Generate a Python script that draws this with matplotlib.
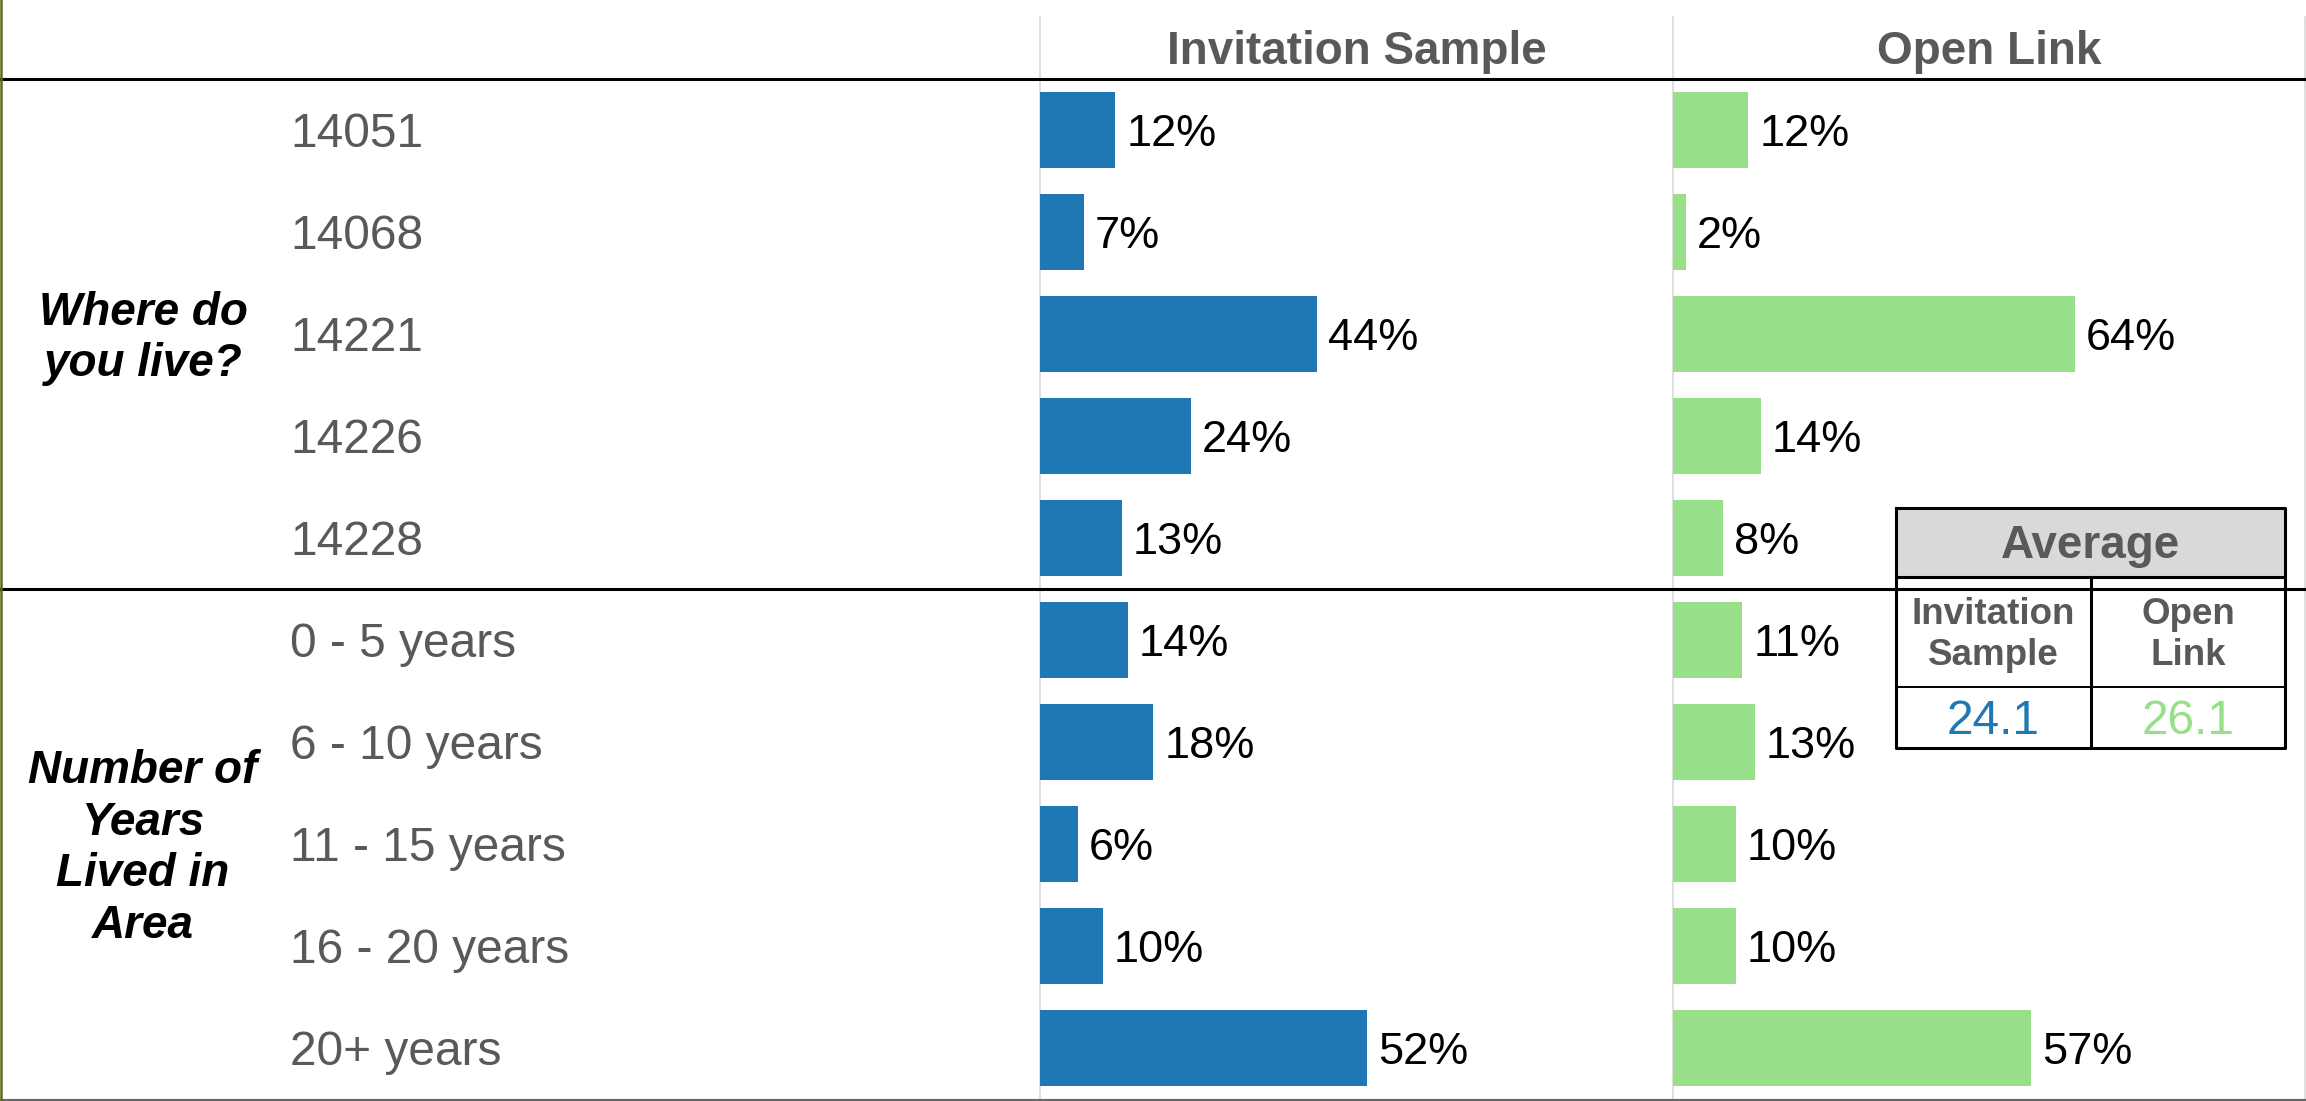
import numpy as np
import matplotlib
matplotlib.use("Agg")
import matplotlib.pyplot as plt
from matplotlib.lines import Line2D
from matplotlib.patches import Rectangle
import matplotlib.transforms as mtransforms

plt.rcParams['font.family'] = ['Liberation Sans', 'DejaVu Sans']

# data
where_labels = ['14051', '14068', '14221', '14226', '14228']
years_labels = ['0 - 5 years', '6 - 10 years', '11 - 15 years', '16 - 20 years', '20+ years']
row_labels = where_labels + years_labels
group_titles = ['Where do\nyou live?', 'Number of\nYears\nLived in\nArea']
invitation = [12, 7, 44, 24, 13, 14, 18, 6, 10, 52]
open_link = [12, 2, 64, 14, 8, 11, 13, 10, 10, 57]
column_titles = ['Invitation Sample', 'Open Link']
avg_values = [24.1, 26.1]
avg_labels = ['Invitation\nSample', 'Open\nLink']

blue = '#1f77b4'
green = '#98df8a'
gray_txt = '#595959'

W, H = 2306, 1101
fig = plt.figure(figsize=(W / 100, H / 100), dpi=100)


def fx(px):
    return px / W


def fy(py):
    return 1 - py / H


top, bottom = 79, 1099
col_x = [1040, 1673, 2305]
axes = []
for i, (vals, color) in enumerate([(invitation, blue), (open_link, green)]):
    ax = fig.add_axes([fx(col_x[i]), fy(bottom), fx(col_x[i + 1] - col_x[i]), (bottom - top) / H])
    y = np.arange(len(vals))
    ax.barh(y, vals, height=0.75, color=color)
    for yi, v in zip(y, vals):
        ax.annotate(f'{v}%', (v, yi), xytext=(8, -3.2), textcoords='offset points',
                    va='center', ha='left', fontsize=32.5, color='black')
    ax.set_xlim(0, 100.7)
    ax.set_ylim(len(vals) - 0.5, -0.5)
    ax.axis('off')
    ax.patch.set_alpha(0)
    fig.text(fx((col_x[i] + col_x[i + 1]) / 2), fy(52), column_titles[i],
             ha='center', va='center', fontsize=33, fontweight='bold', color=gray_txt)
    axes.append(ax)

# row labels and group titles
tr = mtransforms.blended_transform_factory(fig.transFigure, axes[0].transData)
tr_lab = mtransforms.offset_copy(tr, fig=fig, y=-3.2, units='points')
for i, lab in enumerate(row_labels):
    axes[0].text(fx(290), i, lab, transform=tr_lab, ha='left', va='center',
                 fontsize=34.5, color=gray_txt)
axes[0].text(fx(143), 2, group_titles[0], transform=tr_lab, ha='center', va='center',
             fontsize=33, fontweight='bold', fontstyle='italic', linespacing=1.2)
axes[0].text(fx(143), 7, group_titles[1], transform=tr_lab, ha='center', va='center',
             fontsize=33, fontweight='bold', fontstyle='italic', linespacing=1.22)

# grid lines and separators
for x in col_x:
    fig.add_artist(Line2D([fx(x), fx(x)], [fy(17), fy(H)], color='#d9d9d9', lw=1.2,
                          transform=fig.transFigure, zorder=0))
fig.add_artist(Line2D([0, 1], [fy(79), fy(79)], color='black', lw=2.2, transform=fig.transFigure))
fig.add_artist(Line2D([0, 1], [fy(589), fy(589)], color='black', lw=2.2, transform=fig.transFigure))
fig.add_artist(Line2D([0, 1], [fy(1099.5), fy(1099.5)], color='#666666', lw=1.5, transform=fig.transFigure))
fig.add_artist(Line2D([fx(1), fx(1)], [0, 1], color='#5c6b1a', lw=1.8, transform=fig.transFigure))

# average table
tx0, ty0, tw, th = 1896, 508, 389, 240
tab = fig.add_axes([fx(tx0), fy(ty0 + th), tw / W, th / H])
tab.set_xlim(0, tw)
tab.set_ylim(th, 0)
tab.axis('off')
tab.add_patch(Rectangle((0, 0), tw, th, facecolor='white', edgecolor='none'))
tab.add_patch(Rectangle((0, 0), tw, 69, facecolor='#d9d9d9', edgecolor='none'))
tab.plot([0, tw, tw, 0, 0], [0, 0, th, th, 0], color='black', lw=2.2, clip_on=False)
tab.plot([0, tw], [69, 69], color='black', lw=2.2)
tab.plot([0, tw], [179, 179], color='black', lw=1.4)
tab.plot([195, 195], [69, th], color='black', lw=2.2)
tab.text(tw / 2, 38, 'Average', ha='center', va='center', fontsize=33,
         fontweight='bold', color=gray_txt)
for j, (lab, val, c) in enumerate(zip(avg_labels, avg_values, [blue, green])):
    cx = 97 if j == 0 else 292
    tab.text(cx, 127, lab, ha='center', va='center', fontsize=26.5,
             fontweight='bold', color=gray_txt, linespacing=1.2)
    tab.text(cx, 214, f'{val:.1f}', ha='center', va='center', fontsize=34.5, color=c)

fig.savefig('out.png', dpi=100)
